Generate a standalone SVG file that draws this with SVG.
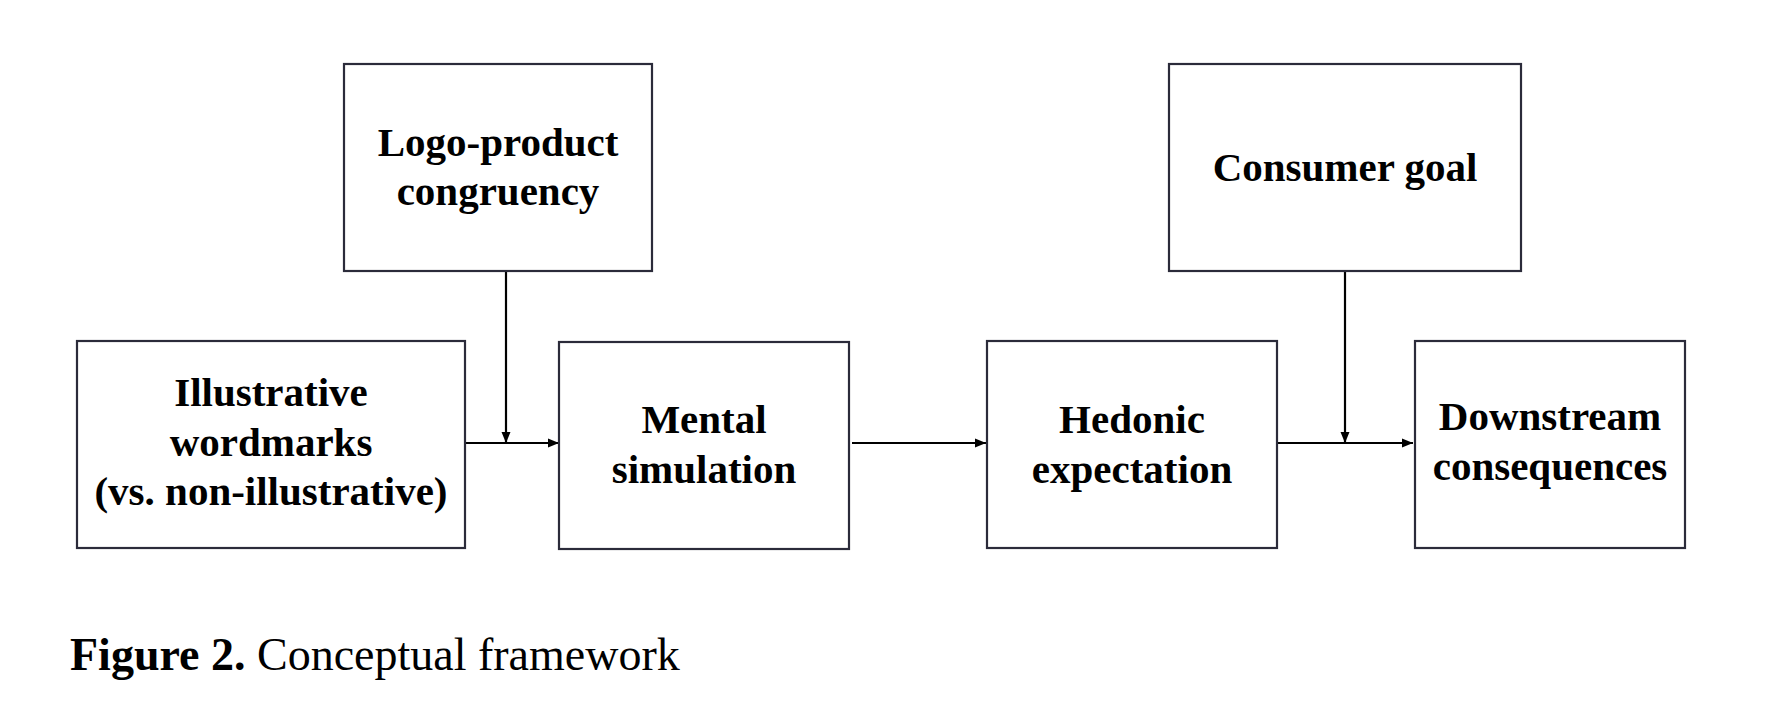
<svg xmlns="http://www.w3.org/2000/svg" width="1782" height="716" viewBox="0 0 1782 716">
<style>
.box{fill:#fff;stroke:#2b2b3a;stroke-width:2.2}
.lbl{font-family:"Liberation Serif","Times New Roman",serif;font-weight:bold;font-size:41px;fill:#000;text-anchor:middle}
.con{stroke:#000;stroke-width:2.2;fill:none}
.cap{font-family:"Liberation Serif","Times New Roman",serif;font-size:46px;fill:#000}
</style>
<defs>
<marker id="arr" markerUnits="userSpaceOnUse" markerWidth="12" markerHeight="10" refX="11" refY="5" orient="auto">
<path d="M0,0.5 L11,5 L0,9.5 z" fill="#000"/>
</marker>
</defs>
<rect width="1782" height="716" fill="#fff"/>
<g id="connectors">
<line class="con" x1="466" y1="443" x2="559" y2="443" marker-end="url(#arr)"/>
<line class="con" x1="506" y1="272" x2="506" y2="443" marker-end="url(#arr)"/>
<line class="con" x1="852" y1="443" x2="986" y2="443" marker-end="url(#arr)"/>
<line class="con" x1="1278" y1="443" x2="1413" y2="443" marker-end="url(#arr)"/>
<line class="con" x1="1345" y1="272" x2="1345" y2="443" marker-end="url(#arr)"/>
</g>
<g id="node-logo">
<rect class="box" x="344" y="64" width="308" height="207"/>
<text class="lbl" x="498" y="156">Logo-product</text>
<text class="lbl" x="498" y="205">congruency</text>
</g>
<g id="node-consumer">
<rect class="box" x="1169" y="64" width="352" height="207"/>
<text class="lbl" x="1345" y="181">Consumer goal</text>
</g>
<g id="node-illustrative">
<rect class="box" x="77" y="341" width="388" height="207"/>
<text class="lbl" x="271" y="406">Illustrative</text>
<text class="lbl" x="271" y="456">wordmarks</text>
<text class="lbl" x="271" y="505">(vs. non-illustrative)</text>
</g>
<g id="node-mental">
<rect class="box" x="559" y="342" width="290" height="207"/>
<text class="lbl" x="704" y="433">Mental</text>
<text class="lbl" x="704" y="483">simulation</text>
</g>
<g id="node-hedonic">
<rect class="box" x="987" y="341" width="290" height="207"/>
<text class="lbl" x="1132" y="433">Hedonic</text>
<text class="lbl" x="1132" y="483">expectation</text>
</g>
<g id="node-downstream">
<rect class="box" x="1415" y="341" width="270" height="207"/>
<text class="lbl" x="1550" y="430">Downstream</text>
<text class="lbl" x="1550" y="480">consequences</text>
</g>
<text class="cap" x="70" y="670"><tspan font-weight="bold">Figure 2.</tspan> Conceptual framework</text>
</svg>
